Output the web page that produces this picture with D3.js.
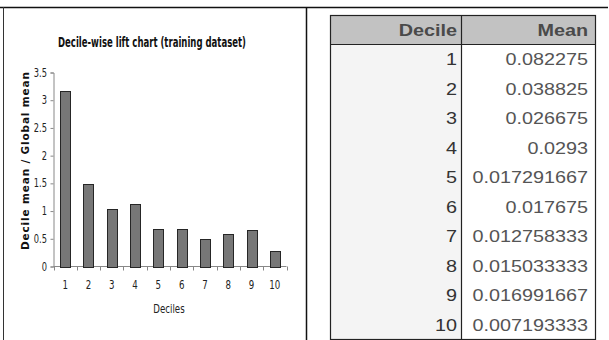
<!DOCTYPE html>
<html>
<head>
<meta charset="utf-8">
<script src="https://cdn.jsdelivr.net/npm/d3@7"></script>
<style>
  body { margin: 0; background: #fff; }
  svg { display: block; }
</style>
</head>
<body>
<div id="chart"></div>
<script>
// deciles and lift values (decile mean / global mean)
var deciles = [1, 2, 3, 4, 5, 6, 7, 8, 9, 10];
var lift = [3.17, 1.49, 1.03, 1.13, 0.67, 0.68, 0.49, 0.58, 0.65, 0.28];
var yTicks = [0, 0.5, 1, 1.5, 2, 2.5, 3, 3.5];
var yTickLabels = ["0", "0.5", "1", "1.5", "2", "2.5", "3", "3.5"];

// table on the right
var tableHeader = ["Decile", "Mean"];
var tableMeans = ["0.082275", "0.038825", "0.026675", "0.0293", "0.017291667",
                  "0.017675", "0.012758333", "0.015033333", "0.016991667", "0.007193333"];

var narrow = "'DejaVu Sans Condensed', 'DejaVu Sans', sans-serif";
var arial = "'Liberation Sans', Arial, sans-serif";

var svg = d3.select("#chart")
    .append("svg")
    .attr("width", 609)
    .attr("height", 340);

// panel frame lines
svg.append("line").attr("x1", 0).attr("x2", 608).attr("y1", 7.5).attr("y2", 7.5)
    .attr("stroke", "#111").attr("stroke-width", 1.5);
svg.append("line").attr("x1", 3.5).attr("x2", 3.5).attr("y1", 7).attr("y2", 340)
    .attr("stroke", "#333").attr("stroke-width", 1);
svg.append("line").attr("x1", 306.5).attr("x2", 306.5).attr("y1", 7).attr("y2", 340)
    .attr("stroke", "#111").attr("stroke-width", 1.5);

// ---- bar chart ----
var x = d3.scaleBand()
    .domain(deciles)
    .range([53.5, 286.5])
    .paddingInner(0.57)
    .paddingOuter(0.285);

var xTickPos = d3.scaleLinear().domain([0, 10]).range([53.5, 286.5]);

var y = d3.scaleLinear()
    .domain([0, 3.5])
    .range([266.5, 72.5]);

// title
svg.append("text")
    .attr("x", 152)
    .attr("y", 47)
    .attr("text-anchor", "middle")
    .attr("font-family", narrow)
    .attr("font-weight", "bold")
    .attr("font-size", "14px")
    .attr("fill", "#111")
    .attr("textLength", 188)
    .attr("lengthAdjust", "spacingAndGlyphs")
    .text("Decile-wise lift chart (training dataset)");

// y axis
var yAxis = svg.append("g")
    .attr("transform", "translate(53.5,0)")
    .call(d3.axisLeft(y).tickValues(yTicks).tickSize(3).tickFormat(""));
yAxis.select(".domain").attr("stroke", "#888");
yAxis.selectAll(".tick line").attr("stroke", "#888");

svg.selectAll(".ylabel")
    .data(yTicks)
    .enter()
    .append("text")
    .attr("class", "ylabel")
    .attr("transform", function(d){ return "translate(47," + (y(d) + 4) + ") scale(0.8,1)"; })
    .attr("text-anchor", "end")
    .attr("font-family", narrow)
    .attr("font-size", "11.5px")
    .attr("fill", "#222")
    .text(function(d, i){ return yTickLabels[i]; });

// x axis line with boundary ticks
svg.append("line")
    .attr("x1", xTickPos(0)).attr("x2", xTickPos(10))
    .attr("y1", y(0)).attr("y2", y(0))
    .attr("stroke", "#888");
svg.selectAll(".xtick")
    .data(d3.range(11))
    .enter()
    .append("line")
    .attr("class", "xtick")
    .attr("x1", function(d){ return Math.round(xTickPos(d)) + 0.5; })
    .attr("x2", function(d){ return Math.round(xTickPos(d)) + 0.5; })
    .attr("y1", y(0))
    .attr("y2", y(0) + 4)
    .attr("stroke", "#888");

// x labels
svg.selectAll(".xlabel")
    .data(deciles)
    .enter()
    .append("text")
    .attr("class", "xlabel")
    .attr("transform", function(d){ return "translate(" + (x(d) + x.bandwidth() / 2) + ",289) scale(0.8,1)"; })
    .attr("text-anchor", "middle")
    .attr("font-family", narrow)
    .attr("font-size", "12px")
    .attr("fill", "#222")
    .text(function(d){ return d; });

// bars
svg.selectAll(".bar")
    .data(lift)
    .enter()
    .append("rect")
    .attr("class", "bar")
    .attr("x", function(d, i){ return Math.round(x(deciles[i])) + 0.5; })
    .attr("y", function(d){ return Math.round(y(d)) + 0.5; })
    .attr("width", Math.round(x.bandwidth()))
    .attr("height", function(d){ return Math.round(y(0)) - Math.round(y(d)); })
    .attr("fill", "#777777")
    .attr("stroke", "#262626")
    .attr("stroke-width", 1);

// axis titles
svg.append("text")
    .attr("transform", "translate(169,313) scale(0.8,1)")
    .attr("text-anchor", "middle")
    .attr("font-family", narrow)
    .attr("font-size", "12px")
    .attr("fill", "#222")
    .text("Deciles");

svg.append("text")
    .attr("transform", "translate(29,161) rotate(-90)")
    .attr("text-anchor", "middle")
    .attr("font-family", "'DejaVu Sans', sans-serif")
    .attr("font-weight", "bold")
    .attr("font-size", "10.5px")
    .attr("fill", "#111")
    .attr("textLength", 178)
    .attr("lengthAdjust", "spacing")
    .text("Decile mean / Global mean");

// ---- table ----
var colX = [330.5, 461.5, 595.5];
var headerTop = 15.5, headerBottom = 44.5, tableBottom = 339.5;

var rowY = d3.scaleBand()
    .domain(deciles)
    .range([headerBottom, tableBottom]);

var table = svg.append("g");

// backgrounds
table.append("rect")
    .attr("x", colX[0]).attr("y", headerTop)
    .attr("width", colX[2] - colX[0]).attr("height", headerBottom - headerTop)
    .attr("fill", "#c2c2c2");
table.append("rect")
    .attr("x", colX[0]).attr("y", headerBottom)
    .attr("width", colX[1] - colX[0]).attr("height", tableBottom - headerBottom)
    .attr("fill", "#f4f4f4");
table.append("rect")
    .attr("x", colX[1]).attr("y", headerBottom)
    .attr("width", colX[2] - colX[1]).attr("height", tableBottom - headerBottom)
    .attr("fill", "#ffffff");

// grid lines
table.append("rect")
    .attr("x", colX[0]).attr("y", headerTop)
    .attr("width", colX[2] - colX[0]).attr("height", tableBottom - headerTop)
    .attr("fill", "none").attr("stroke", "#222").attr("stroke-width", 1.2);
table.append("line")
    .attr("x1", colX[0]).attr("x2", colX[2])
    .attr("y1", headerBottom).attr("y2", headerBottom)
    .attr("stroke", "#222").attr("stroke-width", 1.2);
table.append("line")
    .attr("x1", colX[1]).attr("x2", colX[1])
    .attr("y1", headerTop).attr("y2", tableBottom)
    .attr("stroke", "#222").attr("stroke-width", 1.2);

// header text
table.selectAll(".hdr")
    .data(tableHeader)
    .enter()
    .append("text")
    .attr("class", "hdr")
    .attr("transform", function(d, i){ return "translate(" + (i === 0 ? 457 : 588) + ",35.5) scale(1.2,1)"; })
    .attr("text-anchor", "end")
    .attr("font-family", arial)
    .attr("font-weight", "bold")
    .attr("font-size", "16.5px")
    .attr("fill", "#4a4a4a")
    .text(function(d){ return d; });

// body rows
table.selectAll(".dec")
    .data(deciles)
    .enter()
    .append("text")
    .attr("class", "dec")
    .attr("transform", function(d){ return "translate(457," + (rowY(d) + rowY.bandwidth() / 2 + 6) + ") scale(1.2,1)"; })
    .attr("text-anchor", "end")
    .attr("font-family", arial)
    .attr("font-size", "16.5px")
    .attr("fill", "#333")
    .text(function(d){ return d; });

table.selectAll(".mean")
    .data(tableMeans)
    .enter()
    .append("text")
    .attr("class", "mean")
    .attr("transform", function(d, i){ return "translate(588," + (rowY(deciles[i]) + rowY.bandwidth() / 2 + 6) + ") scale(1.2,1)"; })
    .attr("text-anchor", "end")
    .attr("font-family", arial)
    .attr("font-size", "16.5px")
    .attr("fill", "#555")
    .text(function(d){ return d; });
</script>
</body>
</html>
